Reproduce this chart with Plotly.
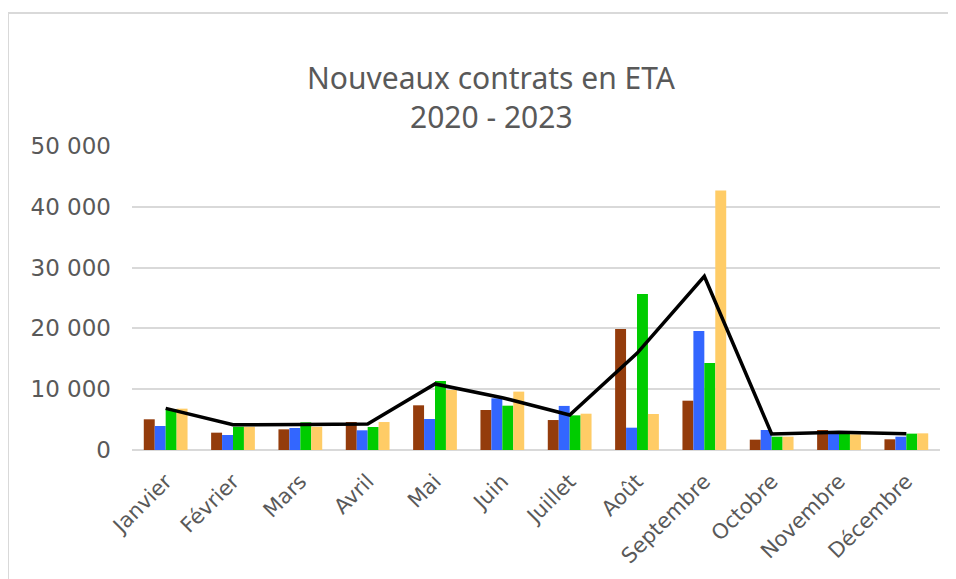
import plotly.graph_objects as go

mois = ["Janvier", "Février", "Mars", "Avril", "Mai", "Juin", "Juillet",
        "Août", "Septembre", "Octobre", "Novembre", "Décembre"]
v2020 = [5050, 2850, 3400, 4600, 7350, 6580, 4930, 19900, 8110, 1700, 3290, 1760]
v2021 = [3950, 2470, 3620, 3240, 5100, 8500, 7250, 3670, 19570, 3290, 3000, 2190]
v2022 = [6700, 3830, 4550, 3780, 11350, 7290, 5700, 25660, 14300, 2190, 3000, 2690]
v2023 = [6800, 3830, 3830, 4600, 9870, 9600, 5970, 5920, 42700, 2190, 2580, 2740]
ligne = [6850, 4150, 4200, 4280, 10860, 8600, 5760, 15900, 28570, 2630, 2900, 2680]
y_ticks = [0, 10000, 20000, 30000, 40000, 50000]
y_labels = ["0", "10 000", "20 000", "30 000", "40 000", "50 000"]

series = [("2020", v2020, "#943C0C"), ("2021", v2021, "#3366FF"),
          ("2022", v2022, "#00CC00"), ("2023", v2023, "#FFCC66")]

fig = go.Figure()
for name, vals, col in series:
    fig.add_trace(go.Bar(x=mois, y=vals, name=name, marker_color=col,
                         marker_line_width=0))
fig.add_trace(go.Scatter(x=mois, y=ligne, mode="lines", name="Moyenne",
                         line=dict(color="black", width=3.5)))

OFF = 8  # page body margin
W, H = 948, 571
pw, ph = 808, 304
L, T = 132 - OFF, 146 - OFF
R, B = W - L - pw, H - T - ph


def px_x(x):
    return (x - OFF - L) / pw


def px_y(y):
    return (H - (y - OFF) - B) / ph


border = dict(color="#D9D9D9", width=2)

fig.update_layout(
    width=W, height=H,
    margin=dict(l=L, r=R, t=T, b=B),
    paper_bgcolor="white", plot_bgcolor="white",
    barmode="group", bargap=0.35, bargroupgap=0,
    showlegend=False,
    font=dict(family="DejaVu Sans", color="#595959"),
    xaxis=dict(tickangle=-45, tickfont=dict(size=21, family="DejaVu Sans", color="#595959"),
               showgrid=False, showline=False, ticks="", ticklabelstandoff=14),
    yaxis=dict(range=[0, 50000], tickvals=y_ticks, ticktext=y_labels,
               tickfont=dict(size=23, family="DejaVu Sans", color="#595959"),
               showgrid=True, gridcolor="#D9D9D9", gridwidth=1.5,
               zeroline=True, zerolinecolor="#D9D9D9", zerolinewidth=1.5,
               showline=False, ticks="", ticklabelstandoff=20),
    annotations=[
        dict(text="Nouveaux contrats en ETA", xref="paper", yref="paper",
             x=px_x(491), y=px_y(77), showarrow=False,
             xanchor="center", yanchor="middle",
             font=dict(size=30, family="Noto Sans", color="#595959")),
        dict(text="2020 - 2023", xref="paper", yref="paper",
             x=px_x(491), y=px_y(116), showarrow=False,
             xanchor="center", yanchor="middle",
             font=dict(size=30, family="Noto Sans", color="#595959")),
    ],
    shapes=[
        dict(type="line", xref="paper", yref="paper",
             x0=px_x(8), x1=px_x(W + 60), y0=px_y(13), y1=px_y(13),
             line=border, layer="below"),
        dict(type="line", xref="paper", yref="paper",
             x0=px_x(8), x1=px_x(8), y0=px_y(13), y1=px_y(H + 60),
             line=border, layer="below"),
    ],
)

fig.write_html("out.html")
